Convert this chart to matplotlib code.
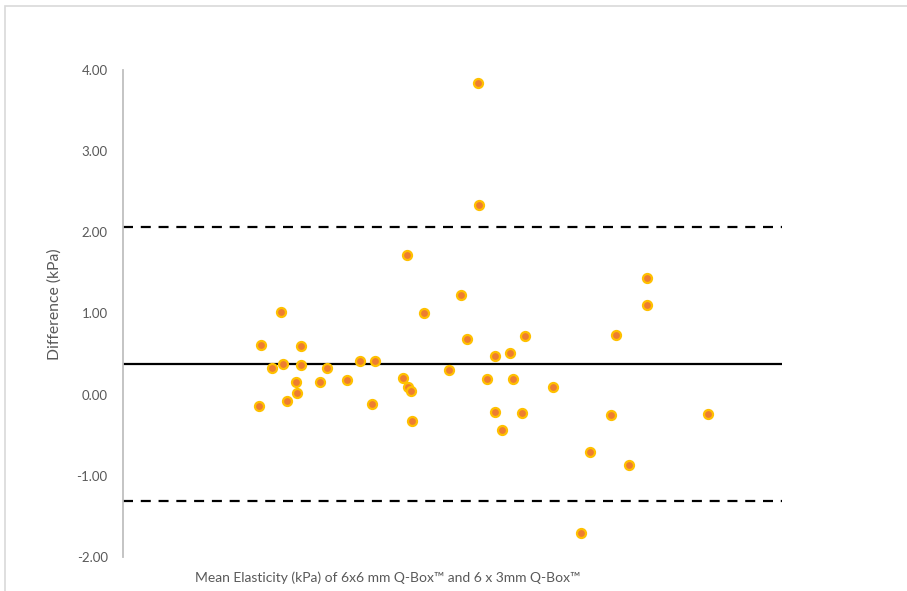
import matplotlib.pyplot as plt
from matplotlib.patches import Rectangle

plt.rcParams['font.family'] = ['Lato', 'DejaVu Sans']

# mean of the two Q-Box measurements (kPa) and their difference (kPa)
mean_elasticity = [4.13, 4.18, 4.53, 4.80, 4.86, 4.99, 5.24, 5.28, 5.39, 5.40,
                   5.99, 6.20, 6.81, 7.20, 7.55, 7.66, 8.51, 8.62, 8.65, 8.73,
                   8.78, 9.14, 9.89, 10.25, 10.45, 10.77, 10.80, 11.05, 11.28, 11.28,
                   11.49, 11.75, 11.85, 12.10, 12.19, 13.04, 13.90, 14.16, 14.81, 14.97,
                   15.37, 15.90, 15.90, 17.76]
difference = [-0.14, 0.61, 0.33, 1.02, 0.38, -0.08, 0.15, 0.02, 0.37, 0.60,
              0.16, 0.33, 0.18, 0.42, -0.12, 0.41, 0.21, 1.72, 0.09, 0.04,
              -0.32, 1.01, 0.30, 1.23, 0.69, 3.84, 2.34, 0.19, 0.48, -0.21,
              -0.44, 0.51, 0.19, -0.22, 0.72, 0.09, -1.70, -0.71, -0.25, 0.74,
              -0.87, 1.44, 1.10, -0.24]

bias = 0.38
upper_loa = 2.07
lower_loa = -1.31

fig = plt.figure(figsize=(9.07, 5.91), dpi=100)
ax = fig.add_axes([0.1356, 0.0575, 0.7266, 0.8241])

ax.axhline(bias, color='black', lw=1.6, zorder=1)
ax.axhline(upper_loa, color='black', lw=1.6, ls=(0, (4.5, 3.5)), zorder=1)
ax.axhline(lower_loa, color='black', lw=1.6, ls=(0, (4.5, 3.5)), zorder=1)

ax.plot(mean_elasticity, difference, 'o', ms=6.5, mfc='#ED7D31',
        mec='#FFC000', mew=1.6, zorder=3)

ax.set_xlim(0, 20)
ax.set_ylim(-2, 4)
ax.set_yticks([-2, -1, 0, 1, 2, 3, 4])
ax.set_yticklabels(['%.2f' % v for v in ax.get_yticks()])
ax.set_xticks([])
ax.tick_params(axis='y', length=0, pad=11, labelsize=9.5, labelcolor='#595959')
for side in ['top', 'right', 'bottom']:
    ax.spines[side].set_visible(False)
ax.spines['left'].set_color('#bfbfbf')
ax.spines['left'].set_linewidth(1.3)

# axis titles
fig.text(55 / 907, 1 - 304 / 591, 'Difference (kPa)', rotation=90,
         ha='center', va='center', fontsize=11.3, color='#595959')
fig.text(388 / 907, 1 - 578 / 591,
         'Mean Elasticity (kPa) of 6x6 mm Q-Box\u2122 and 6 x 3mm Q-Box\u2122',
         ha='center', va='center', fontsize=10, color='#595959')

# thin chart-area frame
fig.patches.append(Rectangle((5 / 907, -0.1), 1.2, 1 - 6 / 591 + 0.1,
                             transform=fig.transFigure, fill=False,
                             ec='#d9d9d9', lw=1.2))

fig.savefig('out.png', dpi=100)
